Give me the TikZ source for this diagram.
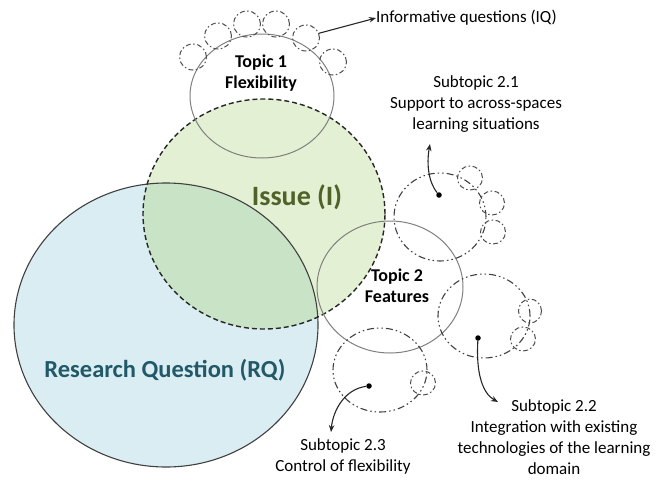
\documentclass[tikz,border=0pt]{standalone}
\usepackage{fontspec}
\setmainfont{Carlito}
\usetikzlibrary{shapes.geometric,arrows.meta}
\definecolor{rqfill}{HTML}{DAEDF3}
\definecolor{isfill}{HTML}{E3F0D3}
\definecolor{ovfill}{HTML}{C9E3C6}
\definecolor{istext}{HTML}{4F6228}
\definecolor{rqtext}{HTML}{215968}
\begin{document}
\begin{tikzpicture}[x=1pt,y=-1pt,
  topic/.style={ellipse, draw=black!50, line width=1pt, inner sep=0pt},
  subc/.style={ellipse, draw=black!75, line width=1.1pt, inner sep=0pt,
    dash pattern=on 7pt off 3pt on 1.5pt off 3pt on 1.5pt off 3pt},
  smallc/.style={ellipse, draw=black!70, line width=1pt, inner sep=0pt,
    dash pattern=on 5pt off 2.5pt on 1.5pt off 2.5pt, minimum width=27pt, minimum height=26pt},
  dotn/.style={circle, fill=black, inner sep=0pt, minimum size=5.5pt},
  lbl/.style={font=\fontsize{17}{21}\selectfont, align=center, inner sep=0pt},
  blbl/.style={font=\fontsize{18}{21}\selectfont\bfseries, align=center, inner sep=0pt},
  ptr/.style={-{Stealth[length=7pt,width=5.5pt]}, line width=1.1pt, black!85}]
\useasboundingbox (0,0) rectangle (661,480);
% fills
\fill[rqfill] (166,325) ellipse (152pt and 142pt);
\fill[isfill] (264,214) ellipse (121pt and 115pt);
\begin{scope}
  \clip (166,325) ellipse (152pt and 142pt);
  \fill[ovfill] (264,214) ellipse (121pt and 115pt);
\end{scope}
% main shapes
\node[ellipse, draw=black!75, line width=1.1pt, inner sep=0pt, minimum width=304pt, minimum height=284pt] (rq) at (166,325) {};
\node[ellipse, draw=black!85, line width=1.4pt, inner sep=0pt, dash pattern=on 5pt off 3pt, minimum width=242pt, minimum height=230pt] (is) at (264,214) {};
\node[topic, minimum width=144pt, minimum height=124pt] (t1) at (262,96) {};
\node[topic, minimum width=146pt, minimum height=132pt] (t2) at (390,287) {};
% subtopic circles
\node[subc, minimum width=92pt, minimum height=88pt] (s21) at (440,217) {};
\node[subc, minimum width=92pt, minimum height=84pt] (s22) at (484,316) {};
\node[subc, minimum width=94pt, minimum height=84pt] (s23) at (380,370) {};
% small circles (informative questions)
\node[smallc] (q1) at (193,57) {};
\node[smallc] (q2) at (218,36) {};
\node[smallc] (q3) at (247,24) {};
\node[smallc] (q4) at (276,24) {};
\node[smallc] (q5) at (306,38) {};
\node[smallc] (q6) at (333,62) {};
\node[smallc, minimum width=25pt, minimum height=24pt] (q7) at (470,178) {};
\node[smallc, minimum width=25pt, minimum height=24pt] (q8) at (492,203) {};
\node[smallc, minimum width=25pt, minimum height=24pt] (q9) at (493,232) {};
\node[smallc, minimum width=23pt, minimum height=24pt] (q10) at (530,311) {};
\node[smallc, minimum width=25pt, minimum height=24pt] (q11) at (523,339) {};
\node[smallc, minimum width=25pt, minimum height=24pt] (q12) at (423,383) {};
% dots
\node[dotn] (d1) at (439,195) {};
\node[dotn] (d2) at (478,338) {};
\node[dotn] (d3) at (369,386) {};
% texts
\node[font=\fontsize{28}{30}\selectfont\bfseries, text=istext] (istx) at (297,197) {Issue (I)};
\node[font=\fontsize{24.5}{28}\selectfont\bfseries, text=rqtext] (rqtx) at (165,370) {Research Question (RQ)};
\node[blbl] (t1tx) at (261,73) {Topic 1\\Flexibility};
\node[blbl] (t2tx) at (397,286) {Topic 2\\Features};
\node[lbl, anchor=west] (iq) at (376,18) {Informative questions (IQ)};
\node[lbl] (l21) at (476,104) {Subtopic 2.1\\Support to across-spaces\\learning situations};
\node[lbl] (l22) at (554,437) {Subtopic 2.2\\Integration with existing\\technologies of the learning\\domain};
\node[lbl] (l23) at (343,456) {Subtopic 2.3\\Control of flexibility};
% arrow ends
\coordinate (c1) at (430,144);
\coordinate (c2) at (498,402);
\coordinate (c3) at (331,432);
% arrows
\draw[ptr] (q5.20) -- (iq.west);
\draw[ptr] (d1) .. controls (427,180) and (427,160) .. (c1);
\draw[ptr] (d2) .. controls (476,372) and (482,393) .. (c2);
\draw[ptr] (d3) .. controls (345,389) and (333,410) .. (c3);
\end{tikzpicture}
\end{document}
